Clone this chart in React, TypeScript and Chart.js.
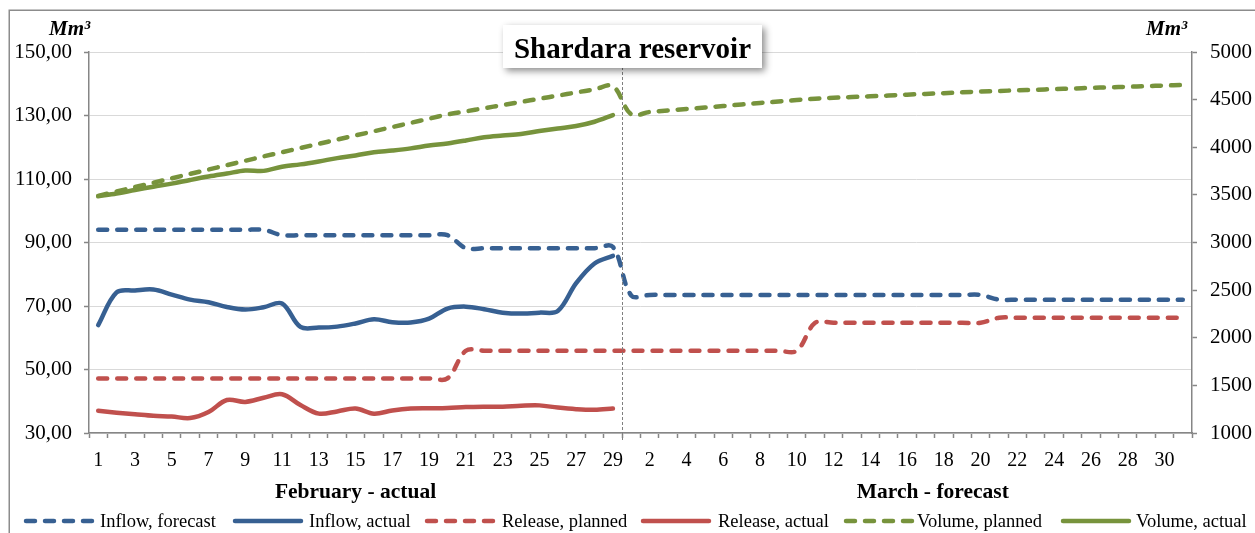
import React, { useEffect, useRef } from 'react';
import { Chart, registerables } from 'chart.js';

Chart.register(...registerables);

// ---------- data ----------
const febDays = ['1','2','3','4','5','6','7','8','9','10','11','12','13','14','15','16','17','18','19','20','21','22','23','24','25','26','27','28','29'];
const marDays = ['1','2','3','4','5','6','7','8','9','10','11','12','13','14','15','16','17','18','19','20','21','22','23','24','25','26','27','28','29','30','31'];
const categories = [...febDays, ...marDays];

const inflowForecastFeb = [94.0,94.0,94.0,94.0,94.0,94.0,94.0,94.0,94.0,94.0,92.3,92.3,92.3,92.3,92.3,92.3,92.3,92.3,92.3,92.3,88.2,88.2,88.2,88.2,88.2,88.2,88.2,88.2,88.6];
const inflowForecastMar = [73.3,73.5,73.5,73.5,73.5,73.5,73.5,73.5,73.5,73.5,73.5,73.5,73.5,73.5,73.5,73.5,73.5,73.5,73.5,73.5,72.0,72.0,72.0,72.0,72.0,72.0,72.0,72.0,72.0,72.0,72.0];
const inflowActualFeb = [64.0,74.3,74.9,75.2,73.6,72.0,71.2,69.7,68.9,69.6,70.8,63.4,63.2,63.5,64.5,65.8,64.9,64.8,66.0,69.2,69.8,69.0,67.9,67.6,67.9,68.4,77.2,83.4,85.8];
const releasePlannedFeb = [47.2,47.2,47.2,47.2,47.2,47.2,47.2,47.2,47.2,47.2,47.2,47.2,47.2,47.2,47.2,47.2,47.2,47.2,47.2,47.2,55.9,55.9,55.9,55.9,55.9,55.9,55.9,55.9,55.9];
const releasePlannedMar = [55.9,55.9,55.9,55.9,55.9,55.9,55.9,55.9,55.9,55.9,64.7,64.7,64.7,64.7,64.7,64.7,64.7,64.7,64.7,64.7,66.3,66.3,66.3,66.3,66.3,66.3,66.3,66.3,66.3,66.3,66.3];
const releaseActualFeb = [37.0,36.4,35.9,35.4,35.2,34.7,36.6,40.4,39.8,41.1,42.2,38.8,36.1,36.8,37.7,36.1,37.1,37.7,37.8,37.9,38.2,38.3,38.3,38.6,38.7,38.0,37.5,37.3,37.7];
const volumePlannedFeb = [3490,3536,3582,3628,3674,3720,3766,3812,3858,3904,3948,3992,4036,4080,4124,4168,4212,4256,4300,4344,4377,4410,4443,4476,4509,4542,4575,4608,4641];
const volumePlannedMar = [4345,4370,4386,4402,4417,4433,4449,4465,4480,4496,4510,4519,4527,4535,4543,4552,4560,4568,4577,4585,4591,4598,4604,4610,4616,4623,4629,4635,4642,4648,4654];
const volumeActualFeb = [3485,3514,3551,3586,3618,3656,3692,3724,3756,3752,3796,3820,3851,3886,3914,3948,3966,3988,4018,4040,4071,4106,4124,4140,4170,4197,4223,4268,4338];

const noMarch: (number | null)[] = marDays.map(() => null);

const seriesLabels = ['Inflow, forecast','Inflow, actual','Release, planned','Release, actual','Volume, planned','Volume, actual'];

// ---------- style / layout ----------
const FONT = '"Liberation Serif", "Times New Roman", Times, serif';
const BLUE = '#376092';
const RED = '#C0504D';
const GREEN = '#77933C';
const AXIS = '#868686';
const GRID = '#d9d9d9';
const DASH = [9, 10];
const W = 1255;
const H = 533;
const legendSampleX = [24, 233, 425, 641, 844, 1061];
const legendTextX = [100, 309, 502, 718, 917, 1136];

const decorPlugin = {
  id: 'decor',
  beforeDraw(chart: any) {
    const ctx = chart.ctx;
    ctx.save();
    ctx.strokeStyle = '#8c8c8c';
    ctx.lineWidth = 1.5;
    ctx.beginPath();
    ctx.moveTo(9.25, chart.height);
    ctx.lineTo(9.25, 10.25);
    ctx.lineTo(chart.width, 10.25);
    ctx.stroke();
    ctx.restore();
  },
  afterDraw(chart: any) {
    const ctx = chart.ctx;
    const x = chart.scales.x;
    const area = chart.chartArea;
    // separator between February and March
    const sepX = (x.getPixelForValue(28) + x.getPixelForValue(29)) / 2;
    ctx.save();
    ctx.strokeStyle = '#7f7f7f';
    ctx.lineWidth = 1;
    ctx.setLineDash([3, 2]);
    ctx.beginPath();
    ctx.moveTo(Math.round(sepX) + 0.5, area.top);
    ctx.lineTo(Math.round(sepX) + 0.5, area.bottom + 7);
    ctx.stroke();
    ctx.restore();

    // title box
    ctx.save();
    ctx.shadowColor = 'rgba(0,0,0,0.45)';
    ctx.shadowBlur = 7;
    ctx.shadowOffsetX = 3;
    ctx.shadowOffsetY = 3;
    ctx.fillStyle = '#ffffff';
    ctx.fillRect(503, 25, 259, 43);
    ctx.restore();
    ctx.save();
    ctx.fillStyle = '#000';
    ctx.font = `bold 29px ${FONT}`;
    ctx.textAlign = 'center';
    ctx.textBaseline = 'alphabetic';
    ctx.fillText('Shardara reservoir', 632.5, 58);

    // unit labels
    ctx.font = `bold italic 21px ${FONT}`;
    ctx.textAlign = 'left';
    ctx.fillText('Mm³', 49, 35);
    ctx.fillText('Mm³', 1146, 35);

    // month titles
    ctx.font = `bold 21.5px ${FONT}`;
    ctx.textAlign = 'center';
    ctx.textBaseline = 'middle';
    ctx.fillText('February - actual', x.getPixelForValue(14), 492);
    ctx.fillText('March - forecast', x.getPixelForValue(45.4), 492);

    // legend
    const ly = 521;
    chart.data.datasets.forEach((ds: any, i: number) => {
      ctx.save();
      ctx.strokeStyle = ds.borderColor;
      ctx.lineWidth = ds.borderWidth;
      ctx.lineCap = 'round';
      ctx.setLineDash(ds.borderDash || []);
      ctx.beginPath();
      ctx.moveTo(legendSampleX[i] + 2, ly);
      ctx.lineTo(legendSampleX[i] + 68, ly);
      ctx.stroke();
      ctx.restore();
      ctx.font = `18.5px ${FONT}`;
      ctx.fillStyle = '#000';
      ctx.textAlign = 'left';
      ctx.textBaseline = 'middle';
      ctx.fillText(ds.label, legendTextX[i], ly + 1);
    });
    ctx.restore();
  },
};

export default function App() {
  const ref = useRef<HTMLCanvasElement | null>(null);

  useEffect(() => {
    if (!ref.current) return;
    const common = {
      borderWidth: 4.5,
      pointRadius: 0,
      pointHoverRadius: 0,
      tension: 0.35,
      borderCapStyle: 'round',
      borderJoinStyle: 'round',
      fill: false,
      spanGaps: false,
    };
    const chart = new Chart(ref.current, {
      type: 'line',
      data: {
        labels: categories,
        datasets: [
          { ...common, label: seriesLabels[0], data: [...inflowForecastFeb, ...inflowForecastMar], borderColor: BLUE, borderDash: DASH, yAxisID: 'y' },
          { ...common, label: seriesLabels[1], data: [...inflowActualFeb, ...noMarch], borderColor: BLUE, yAxisID: 'y' },
          { ...common, label: seriesLabels[2], data: [...releasePlannedFeb, ...releasePlannedMar], borderColor: RED, borderDash: DASH, yAxisID: 'y' },
          { ...common, label: seriesLabels[3], data: [...releaseActualFeb, ...noMarch], borderColor: RED, yAxisID: 'y' },
          { ...common, label: seriesLabels[4], data: [...volumePlannedFeb, ...volumePlannedMar], borderColor: GREEN, borderDash: DASH, yAxisID: 'y1' },
          { ...common, label: seriesLabels[5], data: [...volumeActualFeb, ...noMarch], borderColor: GREEN, yAxisID: 'y1' },
        ] as any,
      },
      options: {
        responsive: false,
        animation: false,
        events: [],
        layout: { padding: { top: 52, left: 0, right: 0, bottom: 0 } },
        plugins: { legend: { display: false }, tooltip: { enabled: false }, title: { display: false } },
        scales: {
          x: {
            type: 'category',
            offset: true,
            grid: { offset: true, drawOnChartArea: false, drawTicks: true, tickLength: 5, tickColor: AXIS, tickWidth: 1.5 },
            border: { color: AXIS, width: 1.5 },
            ticks: {
              autoSkip: false,
              maxRotation: 0,
              minRotation: 0,
              padding: 11,
              color: '#000',
              font: { family: FONT, size: 20 },
              callback: (_v: any, i: number) => (i % 2 === 0 ? categories[i] : ''),
            },
            afterFit: (s: any) => { s.height = 100; },
          },
          y: {
            position: 'left',
            min: 30,
            max: 150,
            grid: { color: GRID, lineWidth: 1, drawTicks: true, tickLength: 5, tickColor: AXIS, tickWidth: 1.5 },
            border: { color: AXIS, width: 1.5 },
            ticks: {
              stepSize: 20,
              padding: 12,
              color: '#000',
              font: { family: FONT, size: 21 },
              callback: (v: any) => Number(v).toFixed(2).replace('.', ','),
            },
            afterFit: (s: any) => { s.width = 89; },
          },
          y1: {
            position: 'right',
            min: 1000,
            max: 5000,
            grid: { drawOnChartArea: false, drawTicks: true, tickLength: 5, tickColor: AXIS, tickWidth: 1.5 },
            border: { color: AXIS, width: 1.5 },
            ticks: {
              stepSize: 500,
              padding: 13,
              color: '#000',
              font: { family: FONT, size: 21 },
              callback: (v: any) => String(v),
            },
            afterFit: (s: any) => { s.width = 63; },
          },
        },
      } as any,
      plugins: [decorPlugin],
    });
    return () => chart.destroy();
  }, []);

  return (
    <div style={{ width: W, height: H, position: 'relative', overflow: 'hidden' }}>
      <style>{'body{margin:0}'}</style>
      <canvas ref={ref} width={W} height={H} style={{ display: 'block', width: W, height: H }} />
    </div>
  );
}
